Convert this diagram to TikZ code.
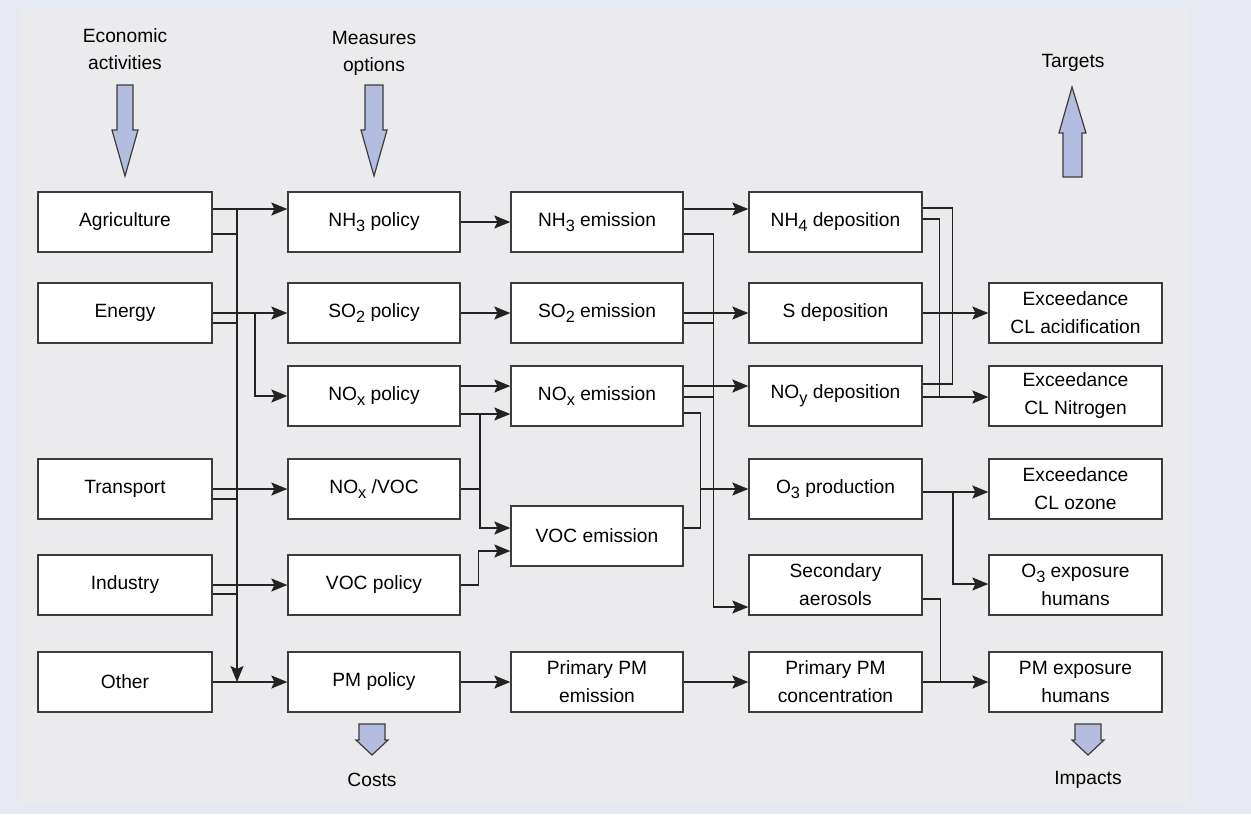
\documentclass[tikz,border=0pt]{standalone}
\usepackage{fontspec}
\setmainfont{Liberation Sans}
\usetikzlibrary{arrows.meta,calc}
\definecolor{outerbg}{RGB}{231,233,242}
\definecolor{innerbg}{RGB}{235,235,237}
\definecolor{boxc}{RGB}{60,60,60}
\definecolor{linec}{RGB}{35,35,35}
\definecolor{bigfill}{RGB}{180,188,224}
\newcommand{\lsub}[1]{\raisebox{-0.45ex}{\scalebox{0.85}{#1}}}
\begin{document}
\begin{tikzpicture}[x=0.5pt,y=-0.5pt,
  box/.style={draw=boxc,line width=0.65pt,fill=white,minimum height=30pt,inner sep=0pt,align=center,font=\fontsize{9.6}{14}\selectfont},
  c1/.style={box,minimum width=87pt},
  c2/.style={box,minimum width=86pt},
  c5/.style={box,minimum width=86.5pt},
  lbl/.style={align=center,font=\fontsize{9.6}{13.5}\selectfont,inner sep=0pt},
  ln/.style={draw=linec,line width=0.8pt},
  arr/.style={ln,-{Stealth[length=8pt,width=6.5pt,inset=1.5pt]}},
  bigarr/.style={draw=boxc,line width=0.6pt,fill=bigfill,line join=miter}]
% background
\fill[outerbg] (0,0) rectangle (1251,814);
\fill[innerbg] (20,8) rectangle (1190,802);
\useasboundingbox (0,0) rectangle (1251,814);

% column 1
\node[c1] (agr) at (125,222) {Agriculture};
\node[c1] (ene) at (125,313) {Energy};
\node[c1] (tra) at (125,489) {Transport};
\node[c1] (ind) at (125,585) {Industry};
\node[c1] (oth) at (125,682) {Other};
% column 2
\node[c2] (nh3p) at (374,222) {NH\lsub{3} policy};
\node[c2] (so2p) at (374,313) {SO\lsub{2} policy};
\node[c2] (noxp) at (374,396) {NO\lsub{x} policy};
\node[c2] (noxvoc) at (374,489) {NO\lsub{x} /VOC};
\node[c2] (vocp) at (374,585) {VOC policy};
\node[c2] (pmp) at (374,682) {PM policy};
% column 3
\node[c2] (nh3e) at (597,222) {NH\lsub{3} emission};
\node[c2] (so2e) at (597,313) {SO\lsub{2} emission};
\node[c2] (noxe) at (597,396) {NO\lsub{x} emission};
\node[c2] (voce) at (597,536) {VOC emission};
\node[c2] (ppme) at (597,682) {Primary PM\\emission};
% column 4
\node[c5] (nh4d) at (835.5,222) {NH\lsub{4} deposition};
\node[c5] (sd) at (835.5,313) {S deposition};
\node[c5] (noyd) at (835.5,396) {NO\lsub{y} deposition};
\node[c5] (o3p) at (835.5,489) {O\lsub{3} production};
\node[c5] (secae) at (835.5,585) {Secondary\\aerosols};
\node[c5] (ppmc) at (835.5,682) {Primary PM\\concentration};
% column 5
\node[c5] (exacid) at (1075.5,313) {Exceedance\\CL acidification};
\node[c5] (exn) at (1075.5,396) {Exceedance\\CL Nitrogen};
\node[c5] (exoz) at (1075.5,489) {Exceedance\\CL ozone};
\node[c5] (o3ex) at (1075.5,585) {O\lsub{3} exposure\\humans};
\node[c5] (pmex) at (1075.5,682) {PM exposure\\humans};

% top / bottom labels
\node[lbl] (econ) at (125,49) {Economic\\activities};
\node[lbl] (meas) at (374,53) {Measures\\options};
\node[lbl] (targ) at (1073,63) {Targets};
\node[lbl] (costs) at (372,780) {Costs};
\node[lbl] (imp) at (1088,780) {Impacts};

% big arrows
\draw[bigarr] (117,85) -- (133,85) -- (133,130) -- (138,130) -- (125,176) -- (112,130) -- (117,130) -- cycle;
\draw[bigarr] (365,85) -- (383,85) -- (383,130) -- (387,130) -- (374,176) -- (361,130) -- (365,130) -- cycle;
\draw[bigarr] (1063,177) -- (1082,177) -- (1082,133) -- (1086,133) -- (1072,87) -- (1059,133) -- (1063,133) -- cycle;
\draw[bigarr] (359,724) -- (385,724) -- (385,740) -- (388,740) -- (372,755) -- (356,740) -- (359,740) -- cycle;
\draw[bigarr] (1075,724) -- (1101,724) -- (1101,740) -- (1104,740) -- (1088,755) -- (1072,740) -- (1075,740) -- cycle;

% column 1 -> 2
\coordinate (bus1) at (237,209);
\coordinate (bus2) at (237,682);
\coordinate (ebr) at (255,313);
\draw[arr] ($(agr.east)+(0,-13)$) -- ($(nh3p.west)+(0,-13)$);
\draw[arr] (bus1) -- (bus2);
\draw[ln] ($(agr.east)+(0,12)$) -| (bus1);
\draw[arr] (ene.east) -- (so2p.west);
\draw[ln] ($(ene.east)+(0,10)$) -| (bus1);
\draw[arr] (ebr) |- (noxp.west);
\draw[arr] (tra.east) -- (noxvoc.west);
\draw[ln] ($(tra.east)+(0,10)$) -| (bus1);
\draw[arr] (ind.east) -- (vocp.west);
\draw[ln] ($(ind.east)+(0,9)$) -| (bus1);
\draw[arr] (oth.east) -- (pmp.west);

% column 2 -> 3
\coordinate (j1) at (480,414);
\draw[arr] (nh3p.east) -- (nh3e.west);
\draw[arr] (so2p.east) -- (so2e.west);
\draw[arr] ($(noxp.east)+(0,-10)$) -- ($(noxe.west)+(0,-10)$);
\draw[arr] ($(noxp.east)+(0,18)$) -- ($(noxe.west)+(0,18)$);
\draw[arr] (j1) |- ($(voce.west)+(0,-8)$);
\draw[ln] (noxvoc.east) -| (j1);
\draw[arr] (vocp.east) -- ++(18,0) |- ($(voce.west)+(0,15)$);
\draw[arr] (pmp.east) -- (ppme.west);

% column 3 -> 4
\coordinate (j3) at (700,489);
\draw[arr] ($(nh3e.east)+(0,-13)$) -- ($(nh4d.west)+(0,-13)$);
\draw[arr] ($(nh3e.east)+(0,12)$) -- ++(30,0) |- ($(secae.west)+(0,22)$);
\draw[arr] (so2e.east) -- (sd.west);
\draw[ln] ($(so2e.east)+(0,10)$) -- ++(30,0);
\draw[arr] ($(noxe.east)+(0,-10)$) -- ($(noyd.west)+(0,-10)$);
\draw[ln] ($(noxe.east)+(0,1)$) -- ++(30,0);
\draw[ln] ($(noxe.east)+(0,17)$) -- ++(17,0) |- ($(voce.east)+(0,-8)$);
\draw[arr] (j3) -- (o3p.west);
\draw[arr] (ppme.east) -- (ppmc.west);

% column 4 -> 5
\coordinate (j4) at (953,492);
\draw[ln] ($(nh4d.east)+(0,-14)$) -- ++(30,0) |- ($(noyd.east)+(0,-12)$);
\draw[arr] ($(nh4d.east)+(0,-3)$) -- ++(17,0) |- ($(exn.west)+(0,1)$);
\draw[arr] (sd.east) -- (exacid.west);
\draw[ln] ($(noyd.east)+(0,1)$) -- ++(17,0);
\draw[arr] ($(o3p.east)+(0,3)$) -- ($(exoz.west)+(0,3)$);
\draw[arr] (j4) |- ($(o3ex.west)+(0,-1)$);
\draw[ln] ($(secae.east)+(0,14)$) -- ++(18,0) |- (ppmc.east);
\draw[arr] (ppmc.east) -- (pmex.west);
\end{tikzpicture}
\end{document}
